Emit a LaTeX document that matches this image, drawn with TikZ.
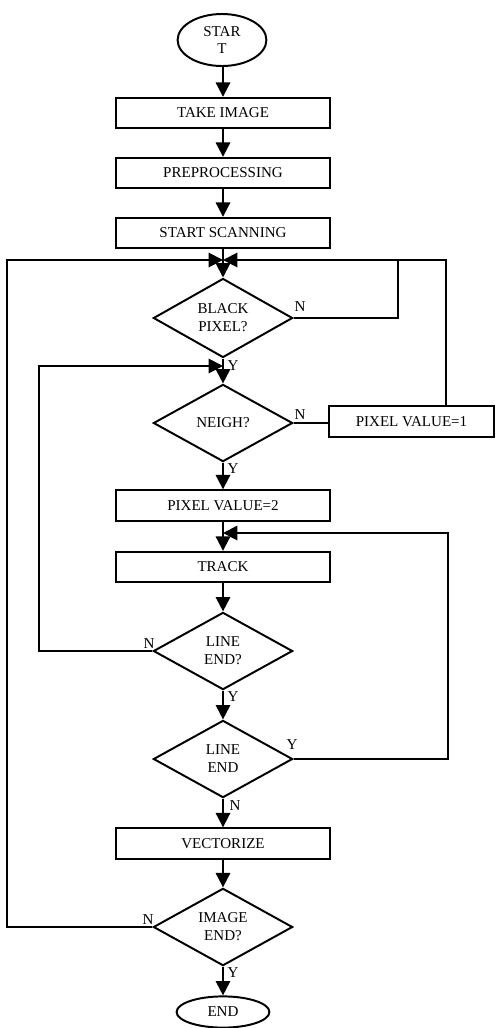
\documentclass[tikz,border=0pt]{standalone}
\usepackage{fontspec}
\setmainfont{Liberation Serif}
\usepackage{xcolor}
\usepackage{tikz}
\usetikzlibrary{calc,shapes.geometric,arrows.meta}
\definecolor{ink}{HTML}{000000}
\definecolor{paper}{HTML}{FFFFFF}
\tikzset{
  procbox/.style={draw=ink, line width=1.4pt, fill=paper, minimum width=5.35cm, minimum height=0.76cm, inner sep=0pt},
  decide/.style={diamond, draw=ink, line width=1.4pt, fill=paper, minimum width=3.48cm, minimum height=1.93cm, inner sep=0pt, align=center},
  term/.style={ellipse, draw=ink, line width=1.4pt, fill=paper, inner sep=0pt, align=center},
  conn/.style={draw=ink, line width=1.4pt},
  arr/.style={conn, -{Triangle[length=3.6mm,width=3.6mm]}},
  lab/.style={text=ink, inner sep=0pt}
}

\begin{document}
\begin{tikzpicture}[x=0.025cm, y=-0.025cm, font=\fontsize{10.7}{12.7}\selectfont]
  \useasboundingbox (0,0) rectangle (495,1028);

  % main column
  \node[term, minimum width=2.22cm, minimum height=1.3cm] (start) at (222,40) {STAR\\T};
  \node[procbox] (take) at (223,113) {TAKE IMAGE};
  \node[procbox] (prep) at (223,173) {PREPROCESSING};
  \node[procbox] (scan) at (223,233) {START SCANNING};
  \node[decide] (black) at (223,318) {BLACK\\PIXEL?};
  \node[decide] (neigh) at (223,423) {NEIGH?};
  \node[procbox] (pvtwo) at (223,505.5) {PIXEL VALUE=2};
  \node[procbox] (track) at (223,567) {TRACK};
  \node[decide] (lendA) at (223,651) {LINE\\END?};
  \node[decide] (lendB) at (223,759) {LINE\\END};
  \node[procbox] (vect) at (223,843.5) {VECTORIZE};
  \node[decide] (iend) at (223,927) {IMAGE\\END?};
  \node[term, minimum width=2.32cm, minimum height=0.78cm] (stop) at (223,1012) {END};
  \node[procbox, minimum width=4.12cm] (pvone) at (411.5,421.5) {PIXEL VALUE=1};

  % junctions
  \coordinate (mA) at (223,260);
  \coordinate (mB) at (223,366);
  \coordinate (mC) at (223,533);
  \coordinate (far) at (7,260);
  \coordinate (inner) at (39,366);
  \coordinate (rA) at (446,260);
  \coordinate (rB) at (398,260);
  \coordinate (rC) at (448,533);

  % straight flow
  \draw[arr] (start.south -| take.north) -- (take);
  \draw[arr] (take) -- (prep);
  \draw[arr] (prep) -- (scan);
  \draw[arr] (scan) -- (black);
  \draw[arr] (black) -- (neigh);
  \draw[arr] (neigh) -- (pvtwo);
  \draw[arr] (pvtwo) -- (track);
  \draw[arr] (track) -- (lendA);
  \draw[arr] (lendA) -- (lendB);
  \draw[arr] (lendB) -- (vect);
  \draw[arr] (vect) -- (iend);
  \draw[arr] (iend) -- (stop);

  % loops
  \draw[arr] (iend.west) -| (far) -- (mA);
  \draw[arr] (rA |- pvone.north) -- (rA) -- (mA);
  \draw[conn] (black.east) -| (rB);
  \draw[conn] (neigh.east) -- (neigh.east -| pvone.west);
  \draw[arr] (lendA.west) -| (inner) -- (mB);
  \draw[arr] (lendB.east) -| (rC) -- (mC);

  % branch labels
  \node[lab] (nBlack) at (300,307) {N};
  \node[lab] (yBlack) at (233,366) {Y};
  \node[lab] (nNeigh) at (300,415) {N};
  \node[lab] (yNeigh) at (233,469) {Y};
  \node[lab] (nLendA) at (149,644) {N};
  \node[lab] (yLendA) at (233,697) {Y};
  \node[lab] (yLendB) at (292,745) {Y};
  \node[lab] (nLendB) at (235,806) {N};
  \node[lab] (nIend) at (148,920) {N};
  \node[lab] (yIend) at (233,973) {Y};
\end{tikzpicture}
\end{document}
